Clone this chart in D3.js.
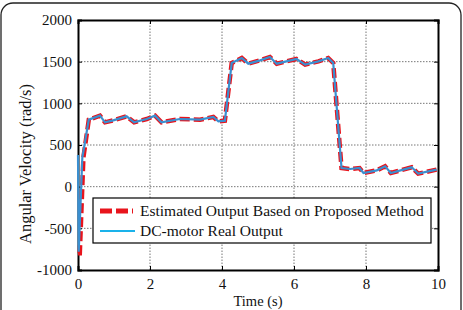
<!DOCTYPE html>
<html>
<head>
<meta charset="utf-8">
<script src="https://cdn.jsdelivr.net/npm/d3@7"></script>
<style>
  body { margin: 0; background: #fff; }
  svg text { font-family: "Liberation Serif", serif; fill: #111; }
</style>
</head>
<body>
<div id="chart"></div>
<script>
// data
var realT = [0, 0.02, 0.12, 0.3, 0.61, 0.75, 0.98, 1.35, 1.56, 1.91, 2.14, 2.32, 2.83, 3.39, 3.76, 3.9, 4.08,
    4.27, 4.55, 4.73, 5.06, 5.33, 5.52, 6.07, 6.31, 6.68, 6.95, 7.09, 7.32, 7.56, 7.82, 7.93, 8.3, 8.53, 8.69,
    9.27, 9.45, 9.96];
var realV = [380, -780, 350, 804, 852, 772, 796, 844, 772, 812, 852, 772, 812, 804, 836, 784, 792,
    1484, 1544, 1476, 1516, 1556, 1476, 1532, 1464, 1504, 1544, 1484, 224, 212, 224, 164, 196, 244, 164,
    232, 156, 204];
var estT = [0, 0.05, 0.15].concat(realT.slice(3));
var estV = [-800, -800, 350].concat(realV.slice(3));

var xTicks = [0, 2, 4, 6, 8, 10];
var yTicks = [-1000, -500, 0, 500, 1000, 1500, 2000];
var legendLabels = ['Estimated Output Based on Proposed Method', 'DC-motor Real Output'];

function drawChart(parentId) {
    var width = 463, height = 310;
    var margin = { left: 78, right: 25, top: 20, bottom: 40 };

    var svg = d3.select('#' + parentId).append('svg')
        .attr('width', width)
        .attr('height', height);

    // rounded frame around the figure
    svg.append('rect')
        .attr('x', 1).attr('y', 3)
        .attr('width', 460).attr('height', 330)
        .attr('rx', 12)
        .style('fill', 'none')
        .style('stroke', '#222')
        .style('stroke-width', 1.3);

    var xScale = d3.scaleLinear().domain([0, 10]).range([margin.left, width - margin.right]);
    var yScale = d3.scaleLinear().domain([-1000, 2000]).range([height - margin.bottom, margin.top]);

    // grid
    var grid = svg.append('g').classed('grid', true);
    grid.selectAll('.vgrid')
        .data(xTicks.slice(1, -1))
        .enter().append('line')
        .attr('x1', function (d) { return xScale(d); })
        .attr('x2', function (d) { return xScale(d); })
        .attr('y1', yScale(-1000)).attr('y2', yScale(2000));
    grid.selectAll('.hgrid')
        .data(yTicks.slice(1, -1))
        .enter().append('line')
        .attr('x1', xScale(0)).attr('x2', xScale(10))
        .attr('y1', function (d) { return yScale(d); })
        .attr('y2', function (d) { return yScale(d); });
    grid.selectAll('line')
        .style('stroke', '#777')
        .style('stroke-width', 1)
        .style('stroke-dasharray', '1.5,1.5');

    // axes, ticks inward; plain hyphen for negatives
    var fmt = function (d) { return String(d); };
    var xAxis = d3.axisBottom(xScale).tickValues(xTicks).tickSize(-4).tickPadding(8).tickFormat(fmt);
    var yAxis = d3.axisLeft(yScale).tickValues(yTicks).tickSize(-4).tickPadding(6).tickFormat(fmt);
    var xAxisTop = d3.axisTop(xScale).tickValues(xTicks).tickSize(-4).tickFormat('');
    var yAxisRight = d3.axisRight(yScale).tickValues(yTicks).tickSize(-4).tickFormat('');

    svg.append('g').attr('transform', 'translate(0,' + yScale(-1000) + ')').call(xAxis);
    svg.append('g').attr('transform', 'translate(' + xScale(0) + ',0)').call(yAxis);
    svg.append('g').attr('transform', 'translate(0,' + yScale(2000) + ')').call(xAxisTop);
    svg.append('g').attr('transform', 'translate(' + xScale(10) + ',0)').call(yAxisRight);

    svg.selectAll('.domain').style('stroke', '#000').style('stroke-width', 2);
    svg.selectAll('.tick line').style('stroke', '#000').style('stroke-width', 1);
    svg.selectAll('.tick text').style('font-family', '"Liberation Serif", serif').style('font-size', '15px').style('fill', '#111');

    // series
    var estData = estT.map(function (t, i) { return [t, estV[i]]; });
    var realData = realT.map(function (t, i) { return [t, realV[i]]; });
    var line = d3.line()
        .x(function (d) { return xScale(d[0]); })
        .y(function (d) { return yScale(d[1]); });

    svg.append('path')
        .datum(estData)
        .attr('d', line)
        .style('fill', 'none')
        .style('stroke', '#e8141c')
        .style('stroke-width', 4.5)
        .style('stroke-dasharray', '10,4');
    svg.append('path')
        .datum(realData)
        .attr('d', line)
        .style('fill', 'none')
        .style('stroke', '#3a8fd0')
        .style('stroke-width', 2.2);

    // axis titles
    svg.append('text')
        .attr('x', xScale(5)).attr('y', 306)
        .attr('text-anchor', 'middle')
        .style('font-size', '14.5px')
        .text('Time (s)');
    svg.append('text')
        .attr('transform', 'translate(31,164) rotate(-90)')
        .attr('text-anchor', 'middle')
        .style('font-size', '16.5px')
        .text('Angular Velocity (rad/s)');

    // legend
    var legend = svg.append('g').attr('transform', 'translate(93,198)');
    legend.append('rect')
        .attr('width', 338).attr('height', 45)
        .style('fill', '#fff')
        .style('stroke', '#000')
        .style('stroke-width', 1.2);
    legend.append('line')
        .attr('x1', 7).attr('x2', 40).attr('y1', 13).attr('y2', 13)
        .style('stroke', '#e8141c').style('stroke-width', 5).style('stroke-dasharray', '12,4');
    legend.append('line')
        .attr('x1', 7).attr('x2', 42).attr('y1', 33).attr('y2', 33)
        .style('stroke', '#1ab2ea').style('stroke-width', 2);
    legend.selectAll('.label')
        .data(legendLabels)
        .enter().append('text')
        .attr('x', 47)
        .attr('y', function (d, i) { return 18 + i * 20; })
        .style('font-size', '15.5px')
        .text(function (d) { return d; });
}

drawChart('chart');
</script>
</body>
</html>
